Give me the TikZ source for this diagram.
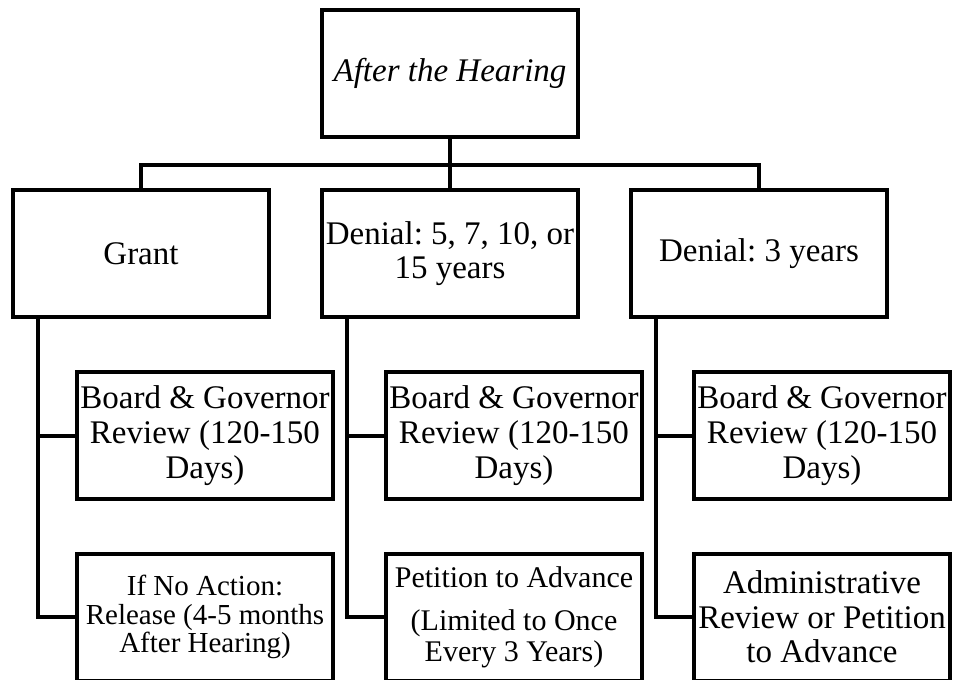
\documentclass[tikz,border=0pt]{standalone}
\usepackage{fontspec}
\setmainfont{Liberation Serif}
\frenchspacing
\newcommand\boxfont{\fontsize{24.75}{26}\selectfont}
\newcommand\notefont{\fontsize{21.75}{21.4}\selectfont}
\newcommand\petfont{\fontsize{22.5}{23.25}\selectfont}
\begin{document}
\begin{tikzpicture}[x=0.75pt, y=-0.75pt, line width=3pt,
  box/.style={draw, line width=3pt, minimum width=192pt, minimum height=95.25pt,
    inner sep=0pt, align=center, font=\boxfont}]
\useasboundingbox (0,0) rectangle (953,679);
% top and first row
\node[box, font=\boxfont\itshape] (hear) at (450, 73.5) {After the Hearing};
\node[box] (grant) at (141, 253.5) {Grant};
\node[box] (deny)  at (450, 253.5) {Denial: 5, 7, 10, or\\15 years};
\node[box] (three) at (759, 253.5) {Denial: 3 years};
\draw (hear.south) -- ++(0, 26) coordinate (bar);
\draw (grant.north) |- (bar) -| (three.north);
\draw (bar) -- (deny.north);
% reviews
\node[box] (grev) at (205, 435.5) {Board \& Governor\\Review (120-150\\Days)};
\node[box] (drev) at (514, 435.5) {Board \& Governor\\Review (120-150\\Days)};
\node[box] (trev) at (822, 435.5) {Board \& Governor\\Review (120-150\\Days)};
% outcomes
\node[box, font=\notefont] (gend) at (205, 617) {If No Action:\\Release (4-5 months\\After Hearing)};
\node[box, font=\petfont] (dend) at (514, 617) {Petition to Advance\\[9pt](Limited to Once\\Every 3 Years)};
\node[box] (tend) at (822, 617) {Administrative\\Review or Petition\\to Advance};
% spines
\path (grant.south west) ++(27, 0) coordinate (gs);
\path (deny.south west)  ++(27, 0) coordinate (ds);
\path (three.south west) ++(27, 0) coordinate (ts);
\draw (gs) |- (grev.west);
\draw (gs) |- (gend.west);
\draw (ds) |- (drev.west);
\draw (ds) |- (dend.west);
\draw (ts) |- (trev.west);
\draw (ts) |- (tend.west);
\end{tikzpicture}
\end{document}
